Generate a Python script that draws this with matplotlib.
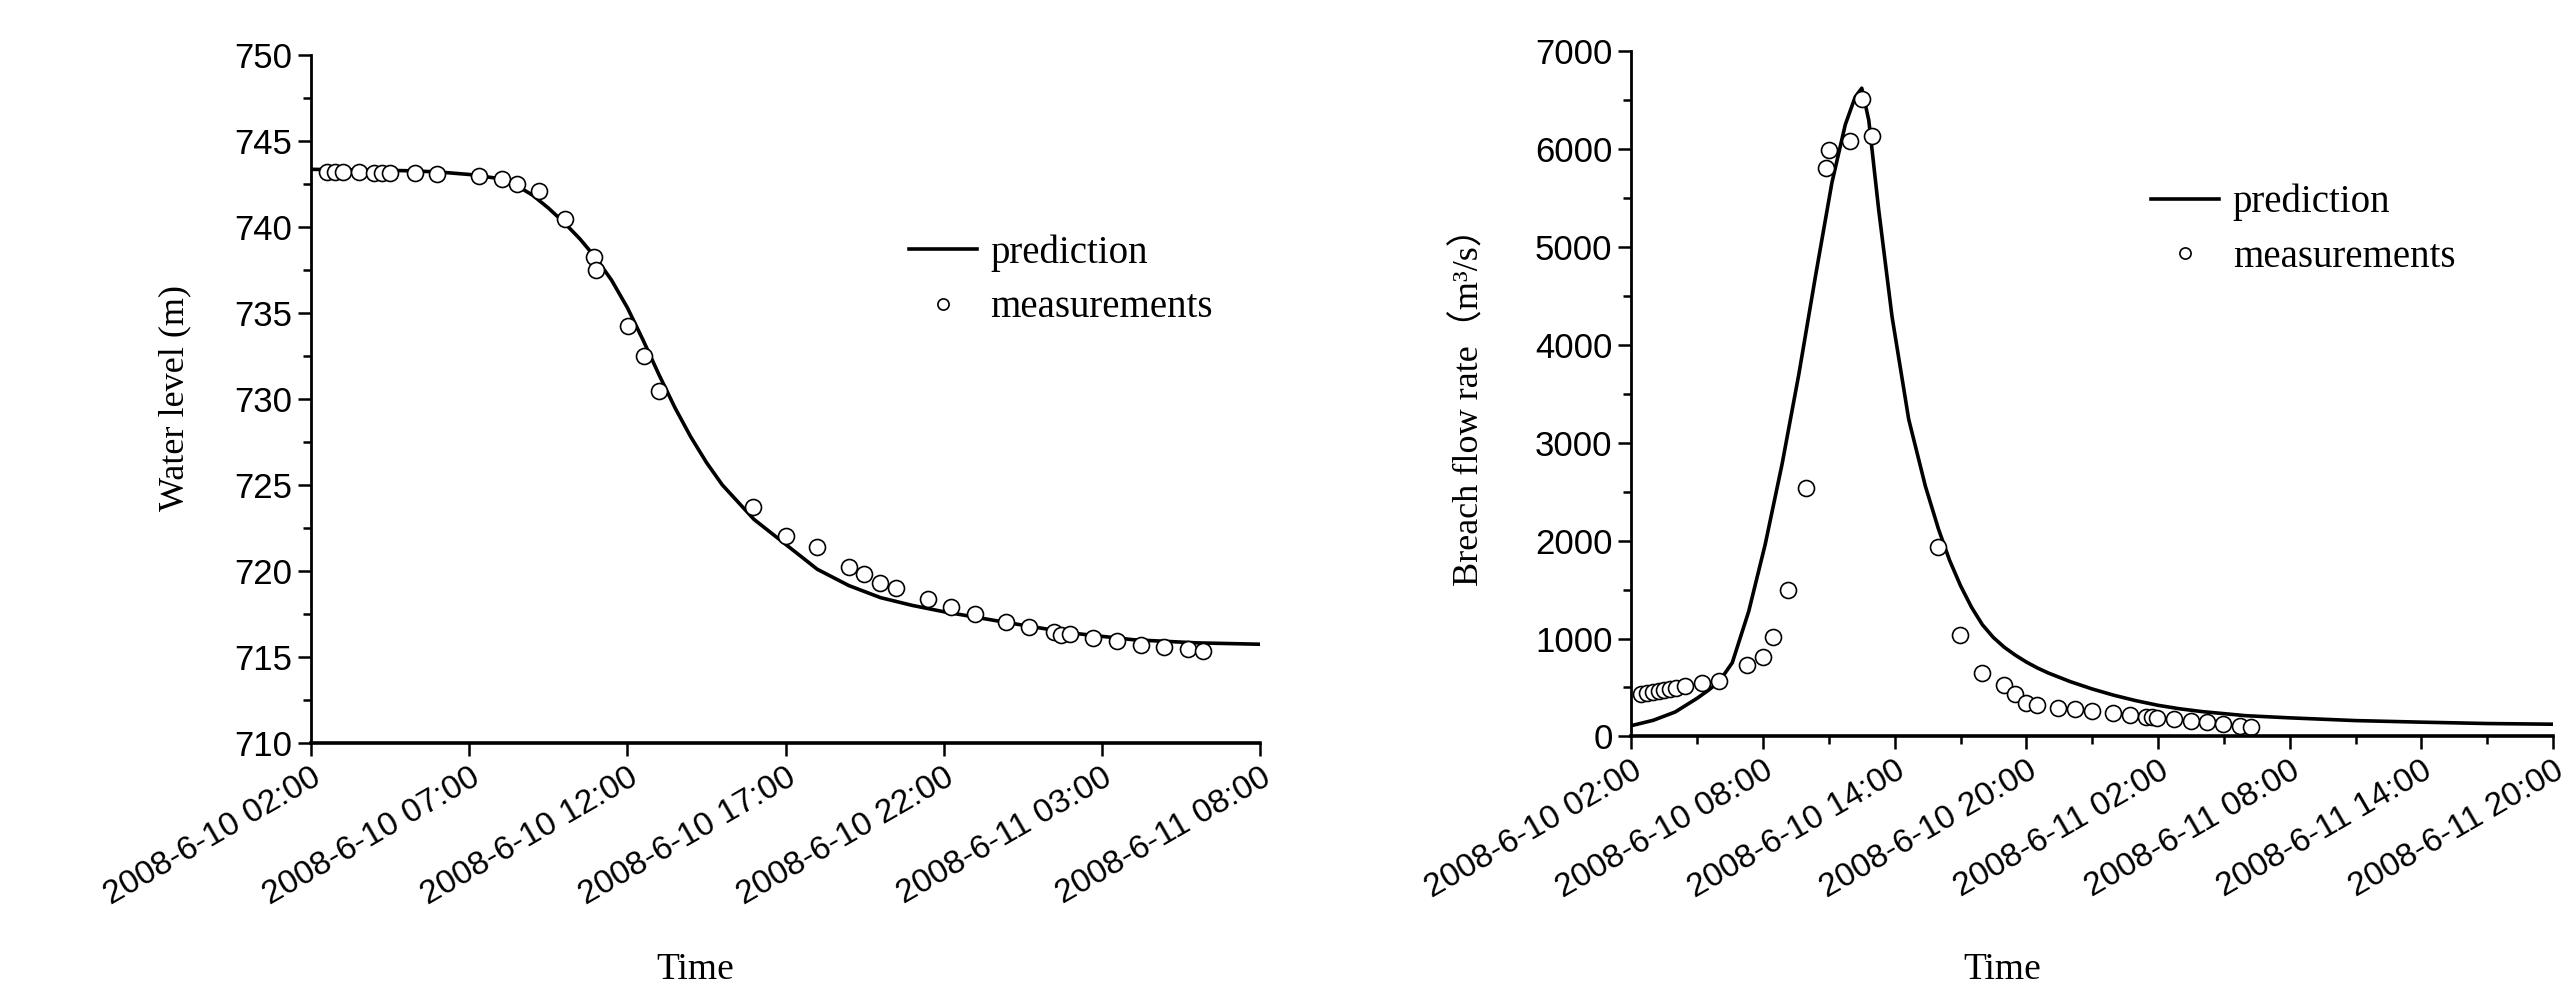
"""
Dam-break validation figure: reservoir water level and breach outflow,
prediction curve vs. field measurements (2008-6-10 / 2008-6-11).
"""
from datetime import datetime, timedelta

import numpy as np
import matplotlib
matplotlib.use("Agg")
import matplotlib.pyplot as plt
import matplotlib.dates as mdates
from matplotlib.ticker import FuncFormatter, MultipleLocator, FixedLocator

START = datetime(2008, 6, 10, 2, 0)

# ── data (hours after 2008-6-10 02:00) ───────────────────────────────────────
# (a) water level, m
level_pred_h = [0, 2, 3, 4, 5, 6, 6.5, 7, 7.5, 8, 8.5, 9, 9.5, 10, 10.5, 11,
                11.5, 12, 12.5, 13, 14, 15, 16, 17, 18, 19, 20, 22, 24, 26,
                28, 30]
level_pred = [743.35, 743.3, 743.27, 743.2, 743.05, 742.8, 742.4, 741.85,
              741.1, 740.25, 739.3, 738.2, 736.9, 735.3, 733.4, 731.4, 729.5,
              727.8, 726.3, 725.0, 723.0, 721.55, 720.1, 719.15, 718.45,
              718.0, 717.63, 717.0, 716.4, 716.0, 715.82, 715.74]

level_meas_h = [0.5, 0.75, 1.0, 1.5, 2.0, 2.25, 2.5, 3.28, 3.99, 5.31, 6.02,
                6.51, 7.2, 8.02, 8.93, 9.01, 10.01, 10.51, 11.01, 13.98, 15.0,
                15.99, 16.99, 17.48, 17.98, 18.49, 19.49, 20.24, 20.98, 21.97,
                22.71, 23.48, 23.72, 23.98, 24.73, 25.47, 26.22, 26.97, 27.72,
                28.21]
level_meas = [743.18, 743.18, 743.17, 743.17, 743.16, 743.16, 743.16, 743.12,
              743.08, 742.97, 742.77, 742.5, 742.07, 740.48, 738.24, 737.52,
              734.26, 732.48, 730.48, 723.74, 722.05, 721.38, 720.25, 719.83,
              719.28, 719.03, 718.36, 717.89, 717.48, 717.05, 716.76, 716.44,
              716.28, 716.32, 716.09, 715.95, 715.72, 715.56, 715.47, 715.35]

# (b) breach flow rate, m3/s
flow_pred_h = [0, 1, 2, 3, 3.5, 4, 4.6, 5.35, 6.1, 6.87, 7.63, 8.39, 9.14,
               9.75, 10.2, 10.5, 10.82, 11.27, 11.88, 12.64, 13.4, 14.0, 14.5,
               15.0, 15.5, 16.0, 16.5, 17.0, 17.5, 18.0, 18.5, 19.0, 20.0,
               21.0, 22.0, 23.0, 24.0, 25.0, 26.0, 28.0, 30.0, 33.0, 36.0,
               39.0, 42.0]
flow_pred = [110, 165, 250, 390, 470, 560, 753, 1278, 1961, 2782, 3695, 4698,
             5655, 6248, 6530, 6620, 6293, 5382, 4287, 3238, 2555, 2115, 1800,
             1540, 1320, 1140, 1010, 910, 830, 760, 700, 648, 560, 485, 420,
             365, 318, 282, 254, 212, 190, 162, 146, 132, 125]

flow_meas_h = [0.42, 0.70, 0.97, 1.25, 1.50, 1.78, 2.04, 2.46, 3.22, 3.98,
               5.28, 5.98, 6.46, 7.12, 7.95, 8.86, 8.99, 9.96, 10.49, 10.98,
               13.97, 14.99, 15.98, 16.98, 17.47, 17.97, 18.49, 19.46, 20.21,
               20.97, 21.96, 22.72, 23.45, 23.71, 23.96, 24.72, 25.48, 26.21,
               26.94, 27.73, 28.23]
flow_meas = [432, 445, 456, 466, 474, 484, 494, 512, 547, 569, 727, 808, 1018,
             1496, 2534, 5808, 5984, 6076, 6505, 6133, 1936, 1039, 653, 526,
             429, 337, 318, 294, 278, 264, 240, 218, 202, 197, 192, 177, 158,
             143, 125, 107, 94]


def to_dates(hours):
    return [START + timedelta(hours=float(h)) for h in hours]


def fmt_date(x, pos=None):
    d = mdates.num2date(x)
    return f"{d.year}-{d.month}-{d.day} {d:%H:%M}"


TICK_FONT = "Liberation Sans"
LABEL_FONT = ["Liberation Serif", "Noto Sans CJK SC"]
MARKER = dict(ls="none", marker="o", ms=11.5, mfc="white", mec="black",
              mew=1.2)
LEGEND = dict(loc="upper left", frameon=False, borderpad=0, borderaxespad=0,
              handlelength=1.75, handletextpad=0.35, labelspacing=0.45,
              markerscale=0.7, prop={"family": LABEL_FONT, "size": 28})

fig = plt.figure(figsize=(25.69, 9.88), dpi=100)
ax1 = fig.add_axes([0.1211, 0.248, 0.3694, 0.6964])
ax2 = fig.add_axes([0.6350, 0.2546, 0.3588, 0.6938])


def style_axes(ax):
    for s in ("top", "right"):
        ax.spines[s].set_visible(False)
    ax.spines["left"].set_linewidth(2.0)
    ax.spines["bottom"].set_linewidth(2.6)
    ax.tick_params(which="major", direction="out", length=9.5, width=1.8)
    ax.tick_params(which="minor", direction="out", length=5.5, width=1.8)
    ax.tick_params(axis="y", labelsize=25, pad=4)
    ax.tick_params(axis="x", labelsize=24, pad=4)
    ax.xaxis.set_major_formatter(FuncFormatter(fmt_date))
    for lab in ax.get_yticklabels():
        lab.set_fontfamily(TICK_FONT)
    for lab in ax.get_xticklabels():
        lab.set_rotation(30)
        lab.set_ha("right")
        lab.set_va("top")
        lab.set_rotation_mode("anchor")
        lab.set_fontfamily(TICK_FONT)


# ── (a) water level ──────────────────────────────────────────────────────────
ax1.plot(to_dates(level_pred_h), level_pred, color="black", lw=2.6,
         label="prediction")
ax1.plot(to_dates(level_meas_h), level_meas, label="measurements", **MARKER)
ax1.set_xlim(START, START + timedelta(hours=30))
ax1.set_ylim(710, 750)
ax1.xaxis.set_major_locator(FixedLocator(
    mdates.date2num(to_dates(np.arange(0, 31, 5)))))
ax1.yaxis.set_major_locator(MultipleLocator(5))
ax1.yaxis.set_minor_locator(MultipleLocator(2.5))
style_axes(ax1)
ax1.set_ylabel("Water level (m)", fontsize=26, family=LABEL_FONT, va="center")
ax1.yaxis.set_label_coords(-0.1433, 0.501)
ax1.set_xlabel("Time", fontsize=27, family=LABEL_FONT)
ax1.xaxis.set_label_coords(0.4046, -0.33)
ax1.xaxis.label.set_va("center")
ax1.legend(bbox_to_anchor=(0.3538, 0.763), bbox_transform=fig.transFigure,
           **LEGEND)

# ── (b) breach flow rate ─────────────────────────────────────────────────────
ax2.plot(to_dates(flow_pred_h), flow_pred, color="black", lw=2.6,
         label="prediction")
ax2.plot(to_dates(flow_meas_h), flow_meas, label="measurements", **MARKER)
ax2.set_xlim(START, START + timedelta(hours=42))
ax2.set_ylim(0, 7000)
ax2.xaxis.set_major_locator(FixedLocator(
    mdates.date2num(to_dates(np.arange(0, 43, 6)))))
ax2.xaxis.set_minor_locator(FixedLocator(
    mdates.date2num(to_dates(np.arange(0, 43, 3)))))
ax2.yaxis.set_major_locator(MultipleLocator(1000))
ax2.yaxis.set_minor_locator(MultipleLocator(500))
style_axes(ax2)
ax2.set_ylabel("Breach flow rate（m³/s）", fontsize=26, family=LABEL_FONT,
               va="center")
ax2.yaxis.set_label_coords(-0.1755, 0.494)
ax2.set_xlabel("Time", fontsize=27, family=LABEL_FONT)
ax2.xaxis.set_label_coords(0.4024, -0.3406)
ax2.xaxis.label.set_va("center")
ax2.legend(bbox_to_anchor=(0.8373, 0.814), bbox_transform=fig.transFigure,
           **LEGEND)

fig.savefig("out.png", dpi=100)
